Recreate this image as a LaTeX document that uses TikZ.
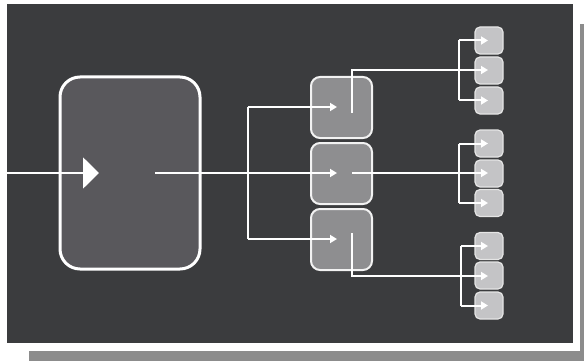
\documentclass[tikz,border=0pt]{standalone}
\usetikzlibrary{arrows.meta,calc}
\definecolor{panel}{HTML}{3B3C3E}
\definecolor{bigfill}{HTML}{59585C}
\definecolor{midfill}{HTML}{8E8E90}
\definecolor{smallfill}{HTML}{C4C4C6}
\definecolor{shadowgray}{HTML}{8C8C8C}
\begin{document}
\begin{tikzpicture}[x=1pt,y=-1pt,
  wire/.style={draw=white,line width=2pt},
  arr/.style={wire,-{Triangle[length=7pt,width=8pt]}},
  bigbox/.style={draw=white,line width=3pt,fill=bigfill,rounded corners=20pt,minimum width=140pt,minimum height=192pt,inner sep=0pt},
  midbox/.style={draw=white!90!gray,line width=2pt,fill=midfill,rounded corners=9pt,minimum width=61pt,minimum height=61pt,inner sep=0pt},
  smallbox/.style={draw=white!80!gray,line width=1.2pt,fill=smallfill,rounded corners=5pt,minimum width=28pt,minimum height=27pt,inner sep=0pt}]
\useasboundingbox (0,0) rectangle (584,361);
\fill[white] (0,0) rectangle (584,361);
% shadow bars
\fill[shadowgray] (29,351) rectangle (584,361);
\fill[shadowgray] (580,24) rectangle (584,361);
% panel
\fill[panel] (7,4) rectangle (573,343);
% nodes
\node[bigbox] (big) at (130,173) {};
\node[midbox] (m1) at (341.5,107.5) {};
\node[midbox] (m2) at (341.5,173.5) {};
\node[midbox] (m3) at (341.5,239.5) {};
\node[smallbox] (s11) at (489,40.5) {};
\node[smallbox] (s12) at (489,70.5) {};
\node[smallbox] (s13) at (489,100.5) {};
\node[smallbox] (s21) at (489,143.5) {};
\node[smallbox] (s22) at (489,173.5) {};
\node[smallbox] (s23) at (489,203) {};
\node[smallbox] (s31) at (489,246) {};
\node[smallbox] (s32) at (489,275.5) {};
\node[smallbox] (s33) at (489,305.5) {};
% coordinates
\coordinate (in) at (7,173);
\coordinate (bigin) at (99,173);
\coordinate (bigout) at (155,173);
\coordinate (m1in) at (337,107);
\coordinate (m2in) at (337,173);
\coordinate (m3in) at (337,239);
\coordinate (m1out) at (352,113);
\coordinate (m2out) at (352,173);
\coordinate (m3out) at (352,233);
\coordinate (s11in) at (488,40.5);
\coordinate (s12in) at (488,70);
\coordinate (s13in) at (488,100.5);
\coordinate (s21in) at (488,143.5);
\coordinate (s22in) at (488,173);
\coordinate (s23in) at (488,203);
\coordinate (s31in) at (488,246);
\coordinate (s32in) at (488,276);
\coordinate (s33in) at (488,305.5);
% input arrow (large head)
\draw[wire,-{Triangle[length=16pt,width=31pt]}] (in) -- (bigin);
% big box to middle boxes
\draw[arr] (bigout) -- (m2in);
\draw[wire] (248,107) -- (248,239);
\draw[arr] (248,107) -- (m1in);
\draw[arr] (248,239) -- (m3in);
% middle to small groups
\draw[arr] (m1out) |- (s12in);
\draw[wire] (459,40.5) -- (459,100.5);
\draw[arr] (459,40.5) -- (s11in);
\draw[arr] (459,100.5) -- (s13in);
\draw[arr] (m2out) -- (s22in);
\draw[wire] (459,143.5) -- (459,203);
\draw[arr] (459,143.5) -- (s21in);
\draw[arr] (459,203) -- (s23in);
\draw[arr] (m3out) |- (s32in);
\draw[wire] (461,246) -- (461,305.5);
\draw[arr] (461,246) -- (s31in);
\draw[arr] (461,305.5) -- (s33in);
\end{tikzpicture}
\end{document}
